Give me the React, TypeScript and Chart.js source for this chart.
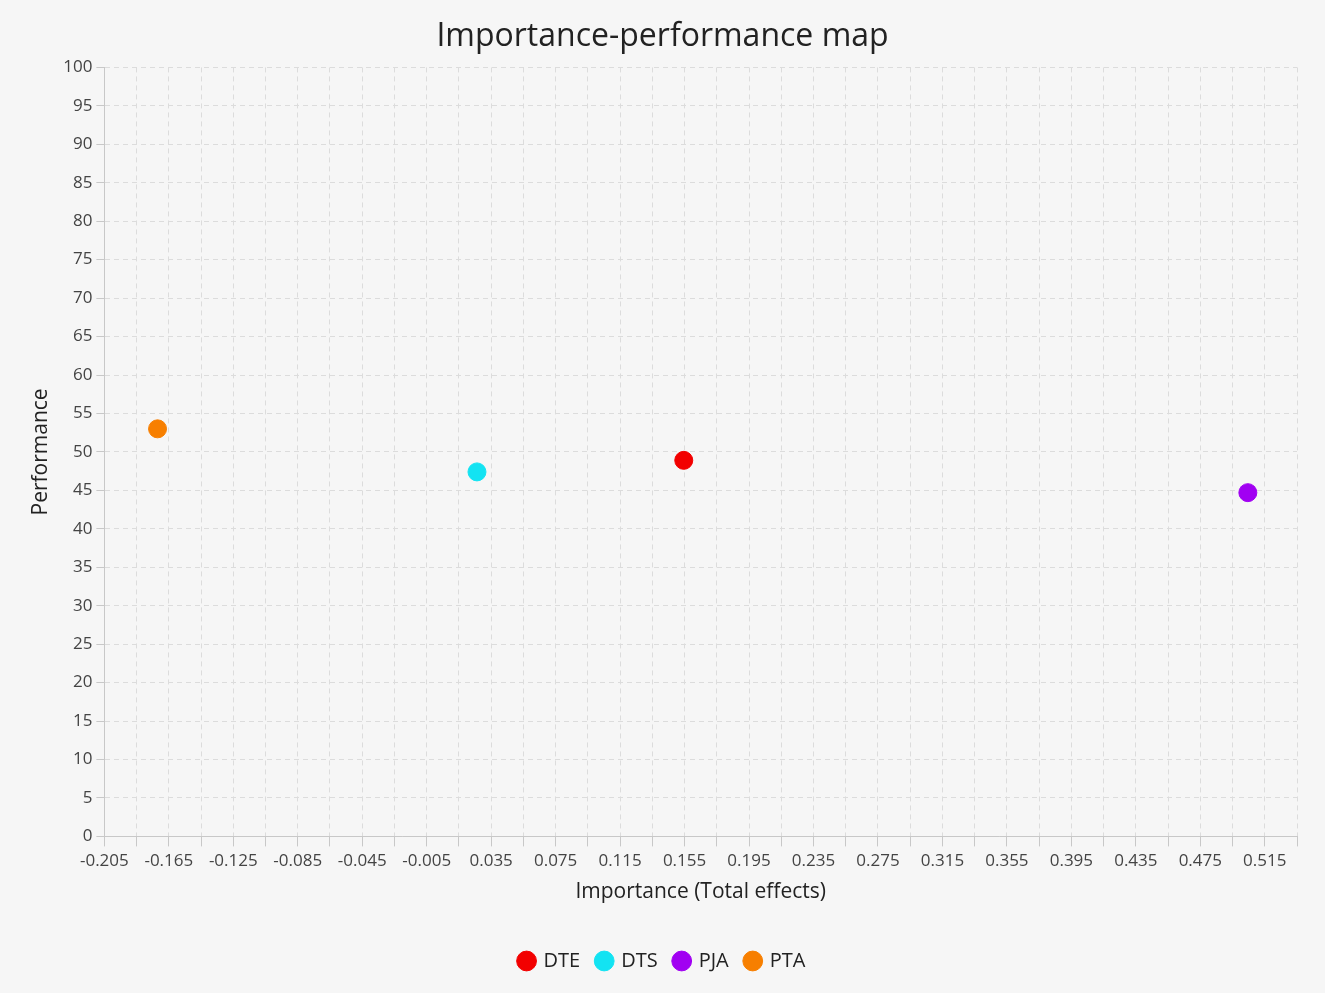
import React, { useEffect, useRef } from "react";
import { Chart, registerables } from "chart.js";

Chart.register(...registerables);

const seriesNames = ["DTE", "DTS", "PJA", "PTA"];
const seriesColors = ["#f20000", "#13e3f2", "#a100f2", "#f77f00"];
const importance = [0.1545, 0.0262, 0.5045, -0.172];
const performance = [48.9, 47.4, 44.7, 53.0];

const xMin = -0.205;
const xMax = 0.535;
const xStep = 0.02;
const yMin = 0;
const yMax = 100;
const yStep = 5;

const FONT = "'Open Sans', 'Noto Sans', sans-serif";

export default function App() {
  const ref = useRef<HTMLCanvasElement | null>(null);
  useEffect(() => {
    if (!ref.current) return;
    const datasets = seriesNames.map((name, i) => ({
      label: name,
      data: [{ x: importance[i], y: performance[i] }],
      backgroundColor: seriesColors[i],
      borderColor: seriesColors[i],
      pointRadius: 9,
      pointHoverRadius: 9,
      pointStyle: "circle",
    }));
    const chart = new Chart(ref.current, {
      type: "scatter",
      data: { datasets },
      options: {
        animation: false,
        responsive: false,
        maintainAspectRatio: false,
        layout: { padding: { left: 28, right: 28, top: 8, bottom: 12 } },
        plugins: {
          title: {
            display: true,
            text: "Importance-performance map",
            color: "#222",
            font: { family: FONT, size: 32, weight: "normal" },
            padding: { top: 10, bottom: 11 },
          },
          legend: {
            position: "bottom",
            labels: {
              usePointStyle: true,
              pointStyle: "circle",
              boxWidth: 14,
              boxHeight: 14,
              padding: 17,
              color: "#222",
              font: { family: FONT, size: 20 },
            },
          },
          tooltip: { enabled: false },
        },
        scales: {
          x: {
            type: "linear",
            min: xMin,
            max: xMax,
            afterBuildTicks: (axis: any) => {
              const t: any[] = [];
              const n = Math.round((xMax - xMin) / xStep);
              for (let i = 0; i <= n; i++) t.push({ value: xMin + i * xStep });
              axis.ticks = t;
            },
            ticks: {
              autoSkip: false,
              maxRotation: 0,
              color: "#444",
              font: { family: FONT, size: 17 },
              padding: 5,
              callback: (v: any, i: number) => (i % 2 === 0 ? Number(v).toFixed(3) : ""),
            },
            grid: {
              color: "#dcdcdc",
              tickColor: "#c8c8c8",
              tickLength: 10,
            },
            border: { display: true, color: "#c8c8c8", dash: [5, 4] },
            title: {
              display: true,
              text: "Importance (Total effects)",
              color: "#222",
              font: { family: FONT, size: 21 },
              padding: { top: 3, bottom: 29 },
            },
          },
          y: {
            type: "linear",
            min: yMin,
            max: yMax,
            ticks: {
              stepSize: yStep,
              color: "#444",
              font: { family: FONT, size: 17 },
              padding: 4,
            },
            grid: {
              color: "#dcdcdc",
              tickColor: "#c8c8c8",
              tickLength: 8,
            },
            border: { display: true, color: "#c8c8c8", dash: [5, 4] },
            title: {
              display: true,
              text: "Performance",
              color: "#222",
              font: { family: FONT, size: 21 },
              padding: { top: 0, bottom: 6 },
            },
          },
        },
      },
    });
    return () => chart.destroy();
  }, []);
  return (
    <div style={{ position: "absolute", left: 0, top: 0, width: 1325, height: 993, background: "#f6f6f6" }}>
      <canvas ref={ref} width={1325} height={993} style={{ display: "block" }} />
    </div>
  );
}
